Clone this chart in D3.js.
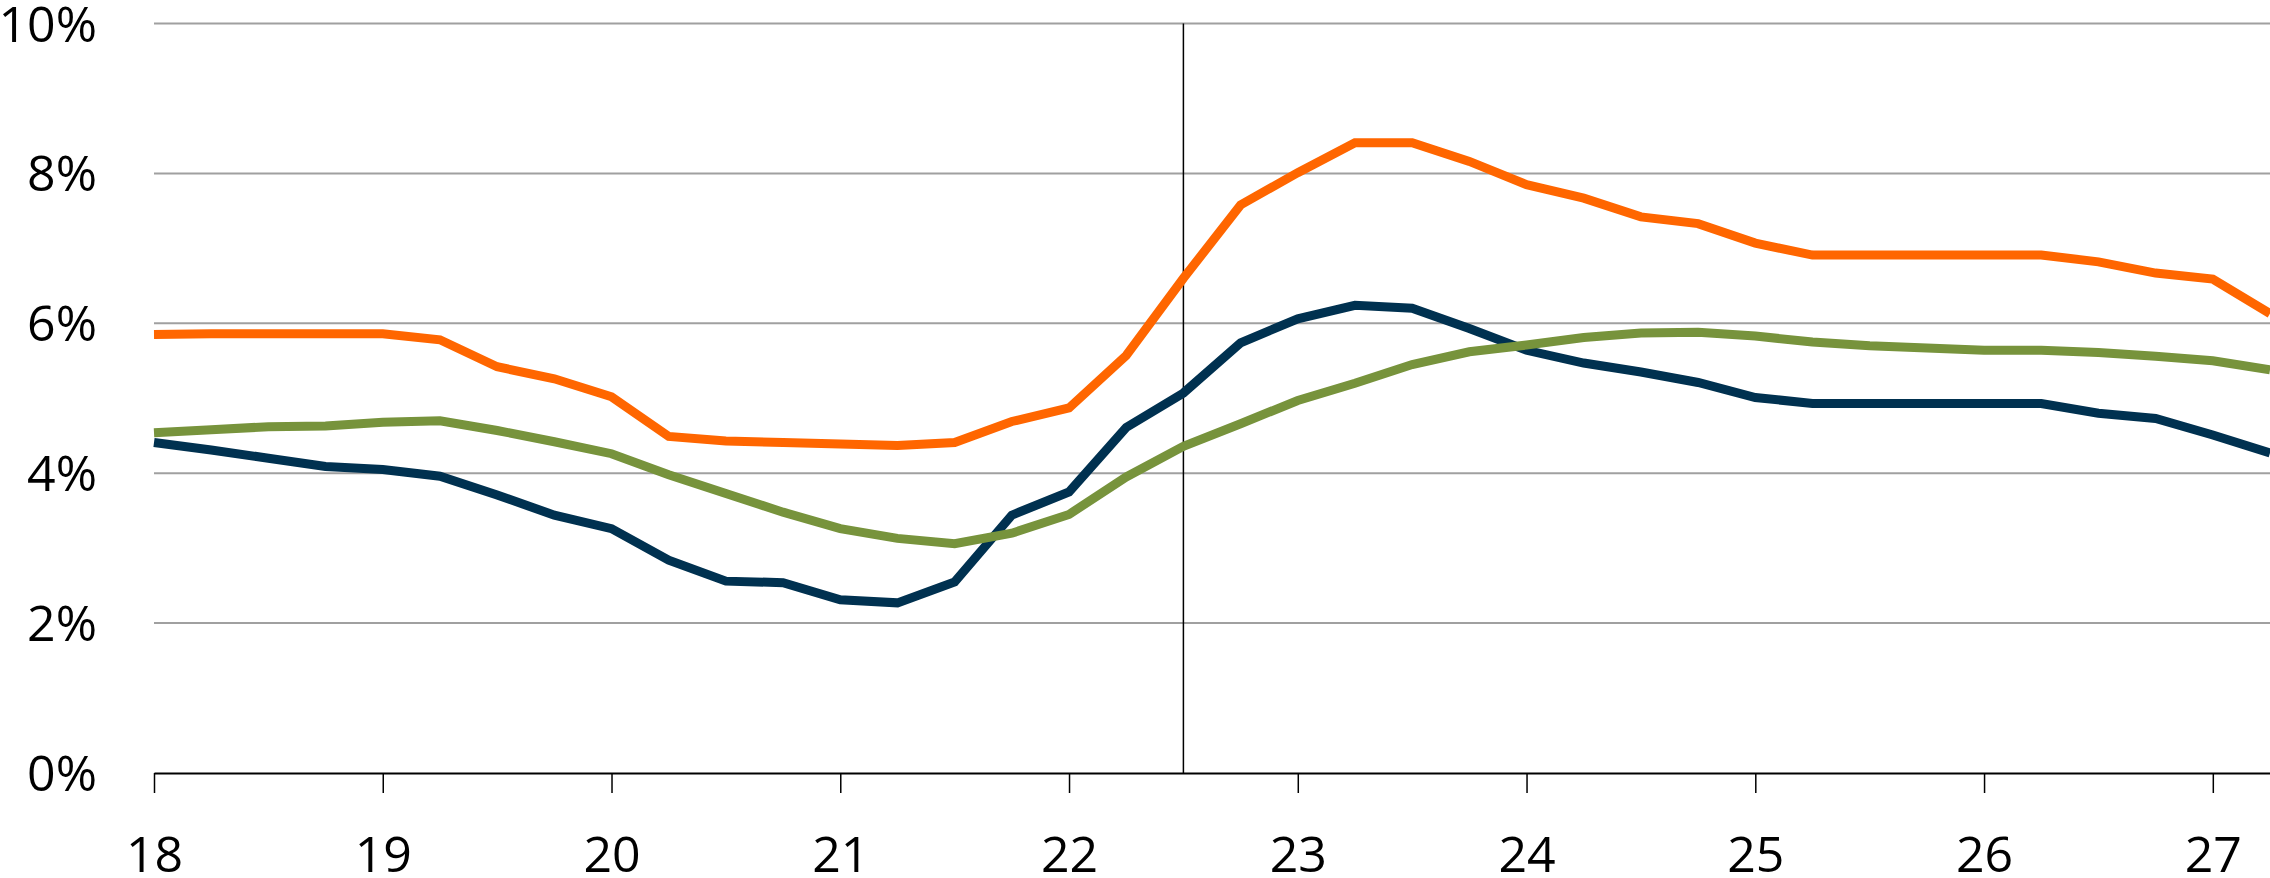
<!DOCTYPE html>
<html>
<head>
<meta charset="utf-8">
<script src="https://cdn.jsdelivr.net/npm/d3@7"></script>
<style>
  html, body { margin: 0; padding: 0; background: #fff; }
  svg text { font-family: "Open Sans", "Noto Sans", sans-serif; fill: #000; }
</style>
</head>
<body>
<svg class="lineChart" width="2270" height="878"></svg>
<script>
// quarters (year 2018 = 18 ... ), one point per quarter
const quarters = [18, 18.25, 18.5, 18.75, 19, 19.25, 19.5, 19.75, 20, 20.25, 20.5, 20.75,
  21, 21.25, 21.5, 21.75, 22, 22.25, 22.5, 22.75, 23, 23.25, 23.5, 23.75,
  24, 24.25, 24.5, 24.75, 25, 25.25, 25.5, 25.75, 26, 26.25, 26.5, 26.75, 27, 27.25];

const orangeSeries = [5.85, 5.86, 5.86, 5.86, 5.86, 5.78, 5.42, 5.26, 5.02, 4.49, 4.43, 4.41,
  4.39, 4.37, 4.41, 4.69, 4.87, 5.57, 6.60, 7.58, 8.01, 8.41, 8.41, 8.16,
  7.85, 7.67, 7.42, 7.33, 7.07, 6.91, 6.91, 6.91, 6.91, 6.91, 6.82, 6.67, 6.59, 6.13];

const blueSeries = [4.41, 4.31, 4.20, 4.09, 4.05, 3.96, 3.71, 3.44, 3.26, 2.84, 2.56, 2.54,
  2.31, 2.27, 2.55, 3.44, 3.75, 4.61, 5.07, 5.74, 6.06, 6.24, 6.20, 5.93,
  5.64, 5.47, 5.35, 5.21, 5.01, 4.93, 4.93, 4.93, 4.93, 4.93, 4.80, 4.73, 4.51, 4.27];

const greenSeries = [4.54, 4.58, 4.62, 4.63, 4.68, 4.70, 4.57, 4.42, 4.26, 3.98, 3.73, 3.48,
  3.26, 3.13, 3.06, 3.20, 3.45, 3.95, 4.36, 4.66, 4.97, 5.20, 5.45, 5.62,
  5.71, 5.81, 5.87, 5.88, 5.83, 5.75, 5.70, 5.67, 5.64, 5.64, 5.61, 5.56, 5.50, 5.38];

const xTicks = [18, 19, 20, 21, 22, 23, 24, 25, 26, 27];
const yTicks = [0, 2, 4, 6, 8, 10];
const splitAt = 22.5; // vertical marker

const seriesList = [
  {name: "orange", values: orangeSeries, color: "#ff6600"},
  {name: "blue", values: blueSeries, color: "#003150"},
  {name: "green", values: greenSeries, color: "#77933c"}
];

const svg = d3.select(".lineChart");

const x = d3.scaleLinear().domain([18, 27.25]).range([154, 2270]);
const y = d3.scaleLinear().domain([0, 10]).range([773, 23.5]);

// gridlines
svg.append("g")
  .selectAll("line")
  .data(yTicks.filter(d => d > 0))
  .join("line")
  .attr("x1", x(18)).attr("x2", 2270)
  .attr("y1", d => y(d)).attr("y2", d => y(d))
  .attr("stroke", "#a0a0a0")
  .attr("stroke-width", 2);

// y labels
svg.append("g")
  .selectAll("text")
  .data(yTicks)
  .join("text")
  .attr("x", 97)
  .attr("y", d => y(d))
  .attr("dy", "0.36em")
  .attr("text-anchor", "end")
  .attr("font-size", 50)
  .text(d => d + "%");

// x axis
const xAxis = svg.append("g")
  .attr("transform", `translate(0, ${y(0)})`)
  .call(d3.axisBottom(x).tickValues(xTicks).tickSize(20).tickSizeOuter(0).tickFormat(d => d));
xAxis.select(".domain").attr("stroke", "#000").attr("stroke-width", 2);
xAxis.selectAll(".tick line").attr("stroke", "#000").attr("stroke-width", 1.5);
xAxis.selectAll(".tick text")
  .attr("font-family", "Open Sans, Noto Sans, sans-serif")
  .attr("font-size", 50)
  .attr("y", 0)
  .attr("dy", 0)
  .attr("transform", "translate(0, 99)");

// vertical marker
svg.append("line")
  .attr("x1", x(splitAt)).attr("x2", x(splitAt))
  .attr("y1", y(10)).attr("y2", y(0))
  .attr("stroke", "#000")
  .attr("stroke-width", 1.5);

// lines
const line = d3.line()
  .x((d, i) => x(quarters[i]))
  .y(d => y(d));

svg.append("g")
  .selectAll("path")
  .data(seriesList)
  .join("path")
  .attr("fill", "none")
  .attr("stroke", d => d.color)
  .attr("stroke-width", 9)
  .attr("stroke-linejoin", "miter")
  .attr("d", d => line(d.values));
</script>
</body>
</html>
